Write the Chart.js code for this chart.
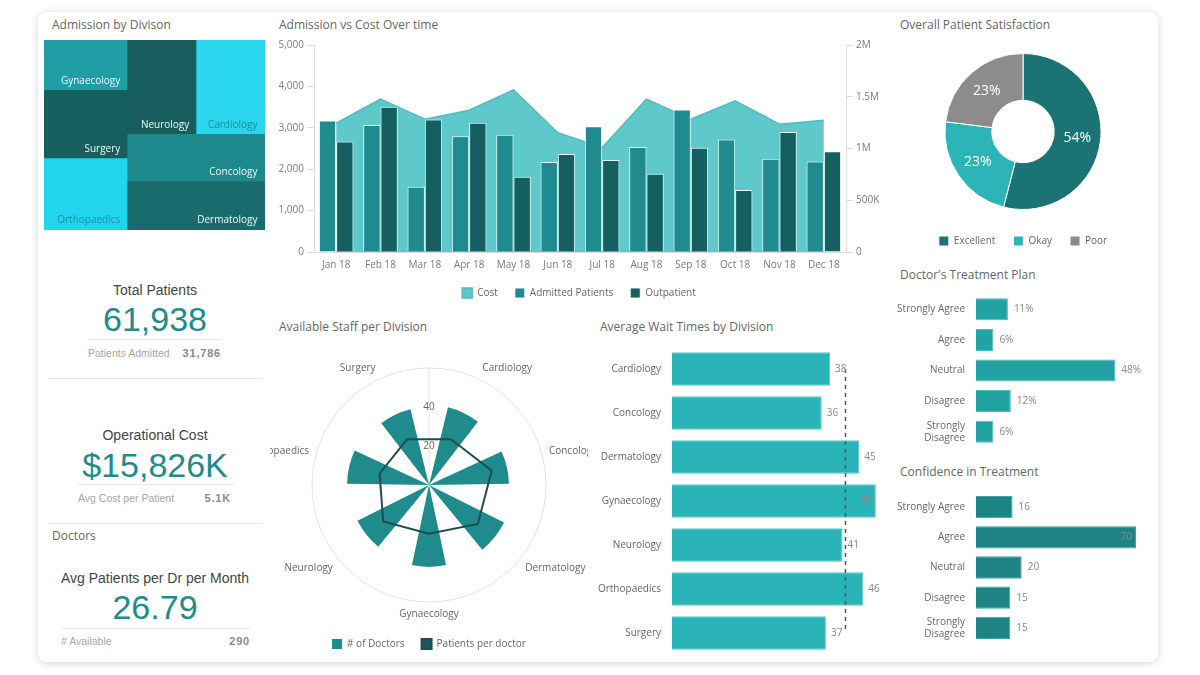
<!DOCTYPE html>
<html>
<head>
<meta charset="utf-8">
<title>Hospital Dashboard</title>
<script src="https://cdn.jsdelivr.net/npm/chart.js@4.4.1/dist/chart.umd.min.js"></script>
<style>
  html, body { margin: 0; padding: 0; background: #ffffff; width: 1200px; height: 675px; overflow: hidden; }
  #card { position: absolute; left: 38px; top: 12px; width: 1120px; height: 650px; background: #fff; border-radius: 9px; box-shadow: 0 1px 9px rgba(0,0,0,0.17); }
  .title { position: absolute; font-family: 'Open Sans', sans-serif; font-size: 12px; line-height: 12px; color: #666; white-space: nowrap; }
  .kpi { position: absolute; font-family: 'Liberation Sans', Arial, sans-serif; white-space: nowrap; text-align: center; }
  .kpi-label { font-size: 14px; line-height: 14px; color: #444; }
  .kpi-big { font-size: 34px; line-height: 34px; color: #1e8c8c; }
  .small { position: absolute; font-family: 'Liberation Sans', Arial, sans-serif; font-size: 10.5px; line-height: 12px; color: #a6a6a6; white-space: nowrap; }
  .smallv { position: absolute; font-family: 'Liberation Sans', Arial, sans-serif; font-size: 11px; line-height: 12px; color: #8a8a8a; font-weight: bold; letter-spacing: 0.8px; text-align: right; white-space: nowrap; }
  .hr { position: absolute; height: 1px; background: #e8e8e8; }
  .box { position: absolute; }
</style>
</head>
<body>
<div id="card"></div>

<div class="title" style="left:52px;top:19px">Admission by Divison</div>
<div class="title" style="left:279px;top:19px">Admission vs Cost Over time</div>
<div class="title" style="left:900px;top:19px">Overall Patient Satisfaction</div>
<div class="title" style="left:900px;top:269px">Doctor's Treatment Plan</div>
<div class="title" style="left:900px;top:466px">Confidence in Treatment</div>
<div class="title" style="left:279px;top:321px">Available Staff per Division</div>
<div class="title" style="left:600px;top:321px">Average Wait Times by Division</div>
<div class="title" style="left:52px;top:530px">Doctors</div>

<!-- KPI blocks -->
<div class="kpi kpi-label" style="left:55px;top:283px;width:200px">Total Patients</div>
<div class="kpi kpi-big" style="left:55px;top:302px;width:200px">61,938</div>
<div class="hr" style="left:88px;top:339px;width:132px"></div>
<div class="small" style="left:88px;top:347px">Patients Admitted</div>
<div class="smallv" style="left:160px;top:347px;width:61px">31,786</div>
<div class="hr" style="left:48px;top:378px;width:214px"></div>

<div class="kpi kpi-label" style="left:55px;top:428px;width:200px">Operational Cost</div>
<div class="kpi kpi-big" style="left:55px;top:448px;width:200px">$15,826K</div>
<div class="hr" style="left:77px;top:484px;width:158px"></div>
<div class="small" style="left:78px;top:492px">Avg Cost per Patient</div>
<div class="smallv" style="left:180px;top:492px;width:51px">5.1K</div>
<div class="hr" style="left:48px;top:523px;width:214px"></div>

<div class="kpi kpi-label" style="left:55px;top:571px;width:200px">Avg Patients per Dr per Month</div>
<div class="kpi kpi-big" style="left:55px;top:590px;width:200px">26.79</div>
<div class="hr" style="left:61px;top:628px;width:189px"></div>
<div class="small" style="left:61px;top:635px"># Available</div>
<div class="smallv" style="left:200px;top:635px;width:50px">290</div>

<!-- charts -->
<div class="box" style="left:44px;top:40px;width:221px;height:190px"><canvas id="c-tree"></canvas></div>
<div class="box" style="left:272px;top:36px;width:614px;height:272px"><canvas id="c-combo"></canvas></div>
<div class="box" style="left:898px;top:43px;width:250px;height:215px"><canvas id="c-donut"></canvas></div>
<div class="box" style="left:890px;top:294px;width:260px;height:153px"><canvas id="c-plan"></canvas></div>
<div class="box" style="left:890px;top:492px;width:262px;height:151px"><canvas id="c-conf"></canvas></div>
<div class="box" style="left:590px;top:347px;width:290px;height:308px"><canvas id="c-wait"></canvas></div>
<div class="box" style="left:270px;top:335px;width:318px;height:327px;overflow:hidden">
  <div class="box" style="left:-61px;top:15px;width:440px;height:308px"><canvas id="c-polar"></canvas></div>
</div>

<script>
// ---------------- DATA ----------------
// Admission by division (treemap)
const treeDivisions = ['Gynaecology', 'Surgery', 'Orthopaedics', 'Neurology', 'Cardiology', 'Concology', 'Dermatology'];
const treeAdmissions = [3202, 4329, 4520, 4933, 4882, 4908, 5012];
const treeColors = ['#1f9ea6', '#175e5f', '#22d5ef', '#175d5e', '#29d6ee', '#1d898d', '#1a6b6d'];
const treeLabelColors = ['#e8f7f8', '#f2f7f7', '#1b8ea0', '#f2f7f7', '#1b8ea0', '#eef7f7', '#eef7f7'];

// Admission vs cost over time
const months = ['Jan 18', 'Feb 18', 'Mar 18', 'Apr 18', 'May 18', 'Jun 18', 'Jul 18', 'Aug 18', 'Sep 18', 'Oct 18', 'Nov 18', 'Dec 18'];
const admittedPatients = [3175, 3065, 1575, 2795, 2835, 2175, 3035, 2535, 3441, 2715, 2255, 2185];
const outpatients = [2670, 3510, 3200, 3120, 1820, 2370, 2220, 1890, 2520, 1500, 2900, 2432];
const monthlyCost = [1244000, 1477000, 1283000, 1370000, 1567000, 1153000, 1009000, 1477000, 1283000, 1460000, 1234000, 1273000];
const leftTicks = { min: 0, max: 5000, step: 1000 };
const costTicks = { min: 0, max: 2000000, step: 500000 };

// Overall patient satisfaction
const satisfactionLabels = ['Excellent', 'Okay', 'Poor'];
const satisfactionValues = [54, 23, 23];
const satisfactionColors = ['#1c7374', '#2cb4b7', '#8c8c8c'];

// Doctor's treatment plan (%)
const planLabels = ['Strongly Agree', 'Agree', 'Neutral', 'Disagree', ['Strongly', 'Disagree']];
const planValues = [11, 6, 48, 12, 6];

// Confidence in treatment
const confLabels = ['Strongly Agree', 'Agree', 'Neutral', 'Disagree', ['Strongly', 'Disagree']];
const confValues = [16, 70, 20, 15, 15];

// Average wait times by division
const waitDivisions = ['Cardiology', 'Concology', 'Dermatology', 'Gynaecology', 'Neurology', 'Orthopaedics', 'Surgery'];
const waitTimes = [38, 36, 45, 49, 41, 46, 37];
const waitAverage = 41.7;

// Available staff per division (polar)
const staffDivisions = ['Cardiology', 'Concology', 'Dermatology', 'Gynaecology', 'Neurology', 'Orthopaedics', 'Surgery'];
const doctorsPerDivision = [41, 41, 43, 42, 41, 42, 40];
const patientsPerDoctor = [26, 33, 32, 25, 30, 26, 26];
const staffAxis = { min: 0, max: 60, step: 20 };

// ---------------- GLOBAL DEFAULTS ----------------
Chart.defaults.font.family = "'Open Sans', sans-serif";
Chart.defaults.font.size = 10;
Chart.defaults.color = '#777';
Chart.defaults.animation = false;
Chart.defaults.events = [];
Chart.defaults.responsive = true;
Chart.defaults.maintainAspectRatio = false;
Chart.defaults.plugins.tooltip.enabled = false;

// ---------------- PLUGINS ----------------
const valueLabelPlugin = {
  id: 'valueLabels',
  afterDatasetsDraw(chart, args, opts) {
    if (!opts || !opts.show) return;
    const di = opts.datasetIndex || 0;
    const meta = chart.getDatasetMeta(di);
    const data = chart.data.datasets[di].data;
    const ctx = chart.ctx;
    const off = opts.offset || 6;
    ctx.save();
    ctx.font = "10px 'Open Sans', sans-serif";
    ctx.fillStyle = opts.color || '#777';
    ctx.textBaseline = 'middle';
    meta.data.forEach((el, i) => {
      const txt = String(data[i]) + (opts.suffix || '');
      const w = ctx.measureText(txt).width;
      if (el.x + off + w > chart.chartArea.right) {
        ctx.textAlign = 'right';
        ctx.fillText(txt, el.x - 4, el.y);
      } else {
        ctx.textAlign = 'left';
        ctx.fillText(txt, el.x + off, el.y);
      }
    });
    ctx.restore();
  }
};

const sliceLabelPlugin = {
  id: 'sliceLabels',
  afterDatasetsDraw(chart, args, opts) {
    if (!opts || !opts.show) return;
    const meta = chart.getDatasetMeta(0);
    const data = chart.data.datasets[0].data;
    const ctx = chart.ctx;
    ctx.save();
    ctx.font = "14px 'Open Sans', sans-serif";
    ctx.fillStyle = '#ffffff';
    ctx.textAlign = 'center';
    ctx.textBaseline = 'middle';
    meta.data.forEach((arc, i) => {
      const p = arc.getCenterPoint();
      ctx.fillText(data[i] + '%', p.x, p.y);
    });
    ctx.restore();
  }
};

const legendShiftPlugin = {
  id: 'legendShift',
  afterLayout(chart, args, opts) {
    if (!opts || typeof opts.top !== 'number' || !chart.legend) return;
    const h = chart.legend.height;
    chart.legend.top = opts.top;
    chart.legend.bottom = opts.top + h;
  }
};

Chart.register(valueLabelPlugin, sliceLabelPlugin, legendShiftPlugin);

// ---------------- TREEMAP CONTROLLER (squarified layout on BarElements) ----------------
function squarify(values, x0, y0, x1, y1) {
  const ratio = (1 + Math.sqrt(5)) / 2;
  const rects = [];
  const n = values.length;
  let value = values.reduce((a, b) => a + b, 0);
  let i0 = 0;
  while (i0 < n) {
    const dx = x1 - x0, dy = y1 - y0;
    let i1 = i0;
    let sumValue = values[i1++];
    let minValue = sumValue, maxValue = sumValue;
    const alpha = Math.max(dy / dx, dx / dy) / (value * ratio);
    let beta = sumValue * sumValue * alpha;
    let minRatio = Math.max(maxValue / beta, beta / minValue);
    for (; i1 < n; ++i1) {
      const v = values[i1];
      sumValue += v;
      if (v < minValue) minValue = v;
      if (v > maxValue) maxValue = v;
      beta = sumValue * sumValue * alpha;
      const newRatio = Math.max(maxValue / beta, beta / minValue);
      if (newRatio > minRatio) { sumValue -= v; break; }
      minRatio = newRatio;
    }
    if (dx < dy) {
      const yy = y0 + dy * sumValue / value;
      let x = x0;
      for (let i = i0; i < i1; i++) {
        const w = dx * values[i] / sumValue;
        rects[i] = { x0: x, x1: x + w, y0: y0, y1: yy };
        x += w;
      }
      y0 = yy;
    } else {
      const xx = x0 + dx * sumValue / value;
      let y = y0;
      for (let i = i0; i < i1; i++) {
        const h = dy * values[i] / sumValue;
        rects[i] = { x0: x0, x1: xx, y0: y, y1: y + h };
        y += h;
      }
      x0 = xx;
    }
    value -= sumValue;
    i0 = i1;
  }
  return rects;
}

class TreemapController extends Chart.BarController {
  static id = 'treemapLite';
  static defaults = Object.assign({}, Chart.BarController.defaults);
  static overrides = {
    scales: {
      x: { type: 'linear', display: false },
      y: { type: 'linear', display: false }
    }
  };
  updateElements(rects, start, count, mode) {
    const meta = this._cachedMeta;
    const xs = meta.xScale, ys = meta.yScale;
    const values = this.getDataset().data;
    const left = xs.getPixelForValue(xs.min), right = xs.getPixelForValue(xs.max);
    const top = ys.getPixelForValue(ys.max), bottom = ys.getPixelForValue(ys.min);
    const layout = squarify(values, left, top, right, bottom);
    for (let i = start; i < start + count; i++) {
      const r = layout[i];
      this.updateElement(rects[i], i, {
        x: (r.x0 + r.x1) / 2,
        y: r.y0,
        base: r.y1,
        width: r.x1 - r.x0,
        horizontal: false,
        borderSkipped: {},
        inflateAmount: 0.4,
        options: this.resolveDataElementOptions(i, mode)
      }, mode);
    }
  }
  draw() {
    super.draw();
    const ctx = this.chart.ctx;
    const ds = this.getDataset();
    const els = this._cachedMeta.data;
    ctx.save();
    ctx.font = "10px 'Open Sans', sans-serif";
    ctx.textAlign = 'right';
    ctx.textBaseline = 'middle';
    els.forEach((el, i) => {
      ctx.fillStyle = ds.labelColors[i];
      ctx.fillText(ds.names[i], el.x + el.width / 2 - 7.5, el.base - 9.5);
    });
    ctx.restore();
  }
}
Chart.register(TreemapController);

new Chart(document.getElementById('c-tree'), {
  type: 'treemapLite',
  data: {
    datasets: [{
      label: 'Admissions',
      data: treeAdmissions,
      names: treeDivisions,
      labelColors: treeLabelColors,
      backgroundColor: treeColors,
      borderWidth: 0
    }]
  },
  options: {
    layout: { padding: 0 },
    scales: {
      x: { type: 'linear', min: 0, max: 1, display: false },
      y: { type: 'linear', min: 0, max: 1, display: false }
    },
    plugins: { legend: { display: false } }
  }
});

// ---------------- COMBO: admission vs cost ----------------
const axisGray = '#dcdcdc';
new Chart(document.getElementById('c-combo'), {
  type: 'bar',
  data: {
    labels: months,
    datasets: [
      { type: 'line', label: 'Cost', data: monthlyCost, yAxisID: 'yCost', backgroundColor: '#5ec8ca', borderColor: '#4fbdbf', borderWidth: 1.5, fill: 'origin', pointRadius: 0, tension: 0, order: 2 },
      { label: 'Admitted Patients', data: admittedPatients, yAxisID: 'y', backgroundColor: '#1f8b8e', borderColor: 'rgba(255,255,255,0.9)', borderWidth: 1, categoryPercentage: 0.78, barPercentage: 1, order: 1 },
      { label: 'Outpatient', data: outpatients, yAxisID: 'y', backgroundColor: '#165f60', borderColor: 'rgba(255,255,255,0.9)', borderWidth: 1, categoryPercentage: 0.78, barPercentage: 1, order: 1 }
    ]
  },
  options: {
    layout: { padding: { top: 8, left: 0, right: 0, bottom: 0 } },
    scales: {
      x: {
        grid: { display: false, drawTicks: false },
        border: { display: true, color: axisGray },
        ticks: { padding: 7, maxRotation: 0, autoSkip: false, color: '#7a7a7a' },
        afterFit: s => { s.height = 19; }
      },
      y: {
        position: 'left', min: leftTicks.min, max: leftTicks.max,
        ticks: { stepSize: leftTicks.step, padding: 3, color: '#7a7a7a' },
        grid: { drawOnChartArea: false, tickLength: 7, color: axisGray },
        border: { color: axisGray },
        afterFit: s => { s.width = 42; }
      },
      yCost: {
        position: 'right', min: costTicks.min, max: costTicks.max,
        ticks: {
          stepSize: costTicks.step, padding: 3, color: '#7a7a7a',
          callback: v => v === 0 ? '0' : (v >= 1000000 ? (v / 1000000) + 'M' : (v / 1000) + 'K')
        },
        grid: { drawOnChartArea: false, tickLength: 7, color: axisGray },
        border: { color: axisGray },
        afterFit: s => { s.width = 40; }
      }
    },
    plugins: {
      legend: {
        position: 'bottom',
        labels: { boxWidth: 10, boxHeight: 10, padding: 17, color: '#666', sort: (a, b) => a.datasetIndex - b.datasetIndex }
      }
    }
  }
});

// ---------------- DONUT: satisfaction ----------------
new Chart(document.getElementById('c-donut'), {
  type: 'doughnut',
  data: {
    labels: satisfactionLabels,
    datasets: [{ data: satisfactionValues, backgroundColor: satisfactionColors, borderColor: '#ffffff', borderWidth: 1 }]
  },
  options: {
    cutout: '40%',
    radius: 78,
    layout: { padding: 0 },
    plugins: {
      legend: { position: 'bottom', labels: { boxWidth: 10, boxHeight: 10, padding: 18, color: '#666' } },
      legendShift: { top: 175 },
      sliceLabels: { show: true }
    }
  }
});

// ---------------- Horizontal bars helper ----------------
function hbarOptions(xMax, yWidth, labelOpts) {
  return {
    indexAxis: 'y',
    layout: { padding: 0 },
    scales: {
      x: {
        min: 0, max: xMax,
        ticks: { display: false },
        grid: { display: false, drawTicks: false },
        border: { display: true, color: '#e2e2e2' },
        afterFit: s => { s.height = 0; s.paddingLeft = 0; s.paddingRight = 0; }
      },
      y: {
        ticks: { padding: 11, color: '#666', autoSkip: false },
        grid: { display: false, drawTicks: false },
        border: { display: false },
        afterFit: s => { s.width = yWidth; s.paddingTop = 0; s.paddingBottom = 0; }
      }
    },
    plugins: { legend: { display: false }, valueLabels: labelOpts }
  };
}

new Chart(document.getElementById('c-plan'), {
  type: 'bar',
  data: {
    labels: planLabels,
    datasets: [{ label: "Doctor's Treatment Plan", data: planValues, backgroundColor: '#23a2a4', borderColor: '#48bfc1', borderWidth: 1, barPercentage: 0.72, categoryPercentage: 1 }]
  },
  options: hbarOptions(60, 86, { show: true, suffix: '%', color: '#888', offset: 6 })
});

new Chart(document.getElementById('c-conf'), {
  type: 'bar',
  data: {
    labels: confLabels,
    datasets: [{ label: 'Confidence in Treatment', data: confValues, backgroundColor: '#1e8385', borderColor: '#3ea3a5', borderWidth: 1, barPercentage: 0.74, categoryPercentage: 1 }]
  },
  options: hbarOptions(77, 86, { show: true, suffix: '', color: '#888', offset: 6 })
});

// ---------------- Wait times ----------------
const waitOpts = hbarOptions(50, 82, { show: true, suffix: '', color: '#888', offset: 5, datasetIndex: 1 });
new Chart(document.getElementById('c-wait'), {
  type: 'bar',
  data: {
    labels: waitDivisions,
    datasets: [
      { type: 'line', label: 'Average', data: waitDivisions.map(() => waitAverage), borderColor: '#555', borderWidth: 1.5, borderDash: [4, 4], pointRadius: 0, fill: false, order: 0 },
      { label: 'Average Wait Time', data: waitTimes, backgroundColor: '#2bb4b7', borderColor: '#55cbcd', borderWidth: 1, barPercentage: 0.76, categoryPercentage: 1, order: 1 }
    ]
  },
  options: waitOpts
});

// ---------------- Polar: staff per division ----------------
const sectorAngle = 360 / staffDivisions.length;
const wedgeAngle = 24;
const polarLabels = [];
const arcValues = [];
const arcAngles = [];
const radarValues = [];
staffDivisions.forEach((d, i) => {
  polarLabels.push('', d);
  radarValues.push(null, patientsPerDoctor[i]);
});
arcValues.push(0); arcAngles.push((sectorAngle - wedgeAngle) / 2);
doctorsPerDivision.forEach((v, i) => {
  arcValues.push(v); arcAngles.push(wedgeAngle);
  if (i < doctorsPerDivision.length - 1) { arcValues.push(0); arcAngles.push(sectorAngle - wedgeAngle); }
});

new Chart(document.getElementById('c-polar'), {
  type: 'radar',
  data: {
    labels: polarLabels,
    datasets: [
      { type: 'polarArea', label: '# of Doctors', data: arcValues, angle: ctx => arcAngles[ctx.dataIndex], backgroundColor: '#1f8b8c', borderColor: '#1f8b8c', borderWidth: 0, order: 1 },
      { type: 'radar', label: 'Patients per doctor', data: radarValues, spanGaps: true, fill: false, borderColor: '#1d4d4e', backgroundColor: '#175a5b', borderWidth: 2, pointRadius: 0, order: 0 }
    ]
  },
  options: {
    layout: { padding: 0 },
    scales: {
      r: {
        min: staffAxis.min, max: staffAxis.max, startAngle: 0,
        ticks: { display: true, stepSize: staffAxis.step, showLabelBackdrop: false, backdropPadding: 0, color: '#666', callback: v => v === staffAxis.max ? '' : v },
        grid: { display: true, circular: true, color: ctx => (ctx.tick && ctx.tick.value === staffAxis.max) ? '#e2e2e2' : 'rgba(0,0,0,0)' },
        angleLines: { display: true, color: ctx => ctx.index === 0 ? '#e2e2e2' : 'rgba(0,0,0,0)' },
        pointLabels: { display: true, padding: 1, color: '#666', font: { size: 10 } }
      }
    },
    plugins: {
      legend: { position: 'bottom', labels: { boxWidth: 10, boxHeight: 10, padding: 17, color: '#666', sort: (a, b) => a.datasetIndex - b.datasetIndex } },
      legendShift: { top: 272 }
    }
  }
});
</script>
</body>
</html>
